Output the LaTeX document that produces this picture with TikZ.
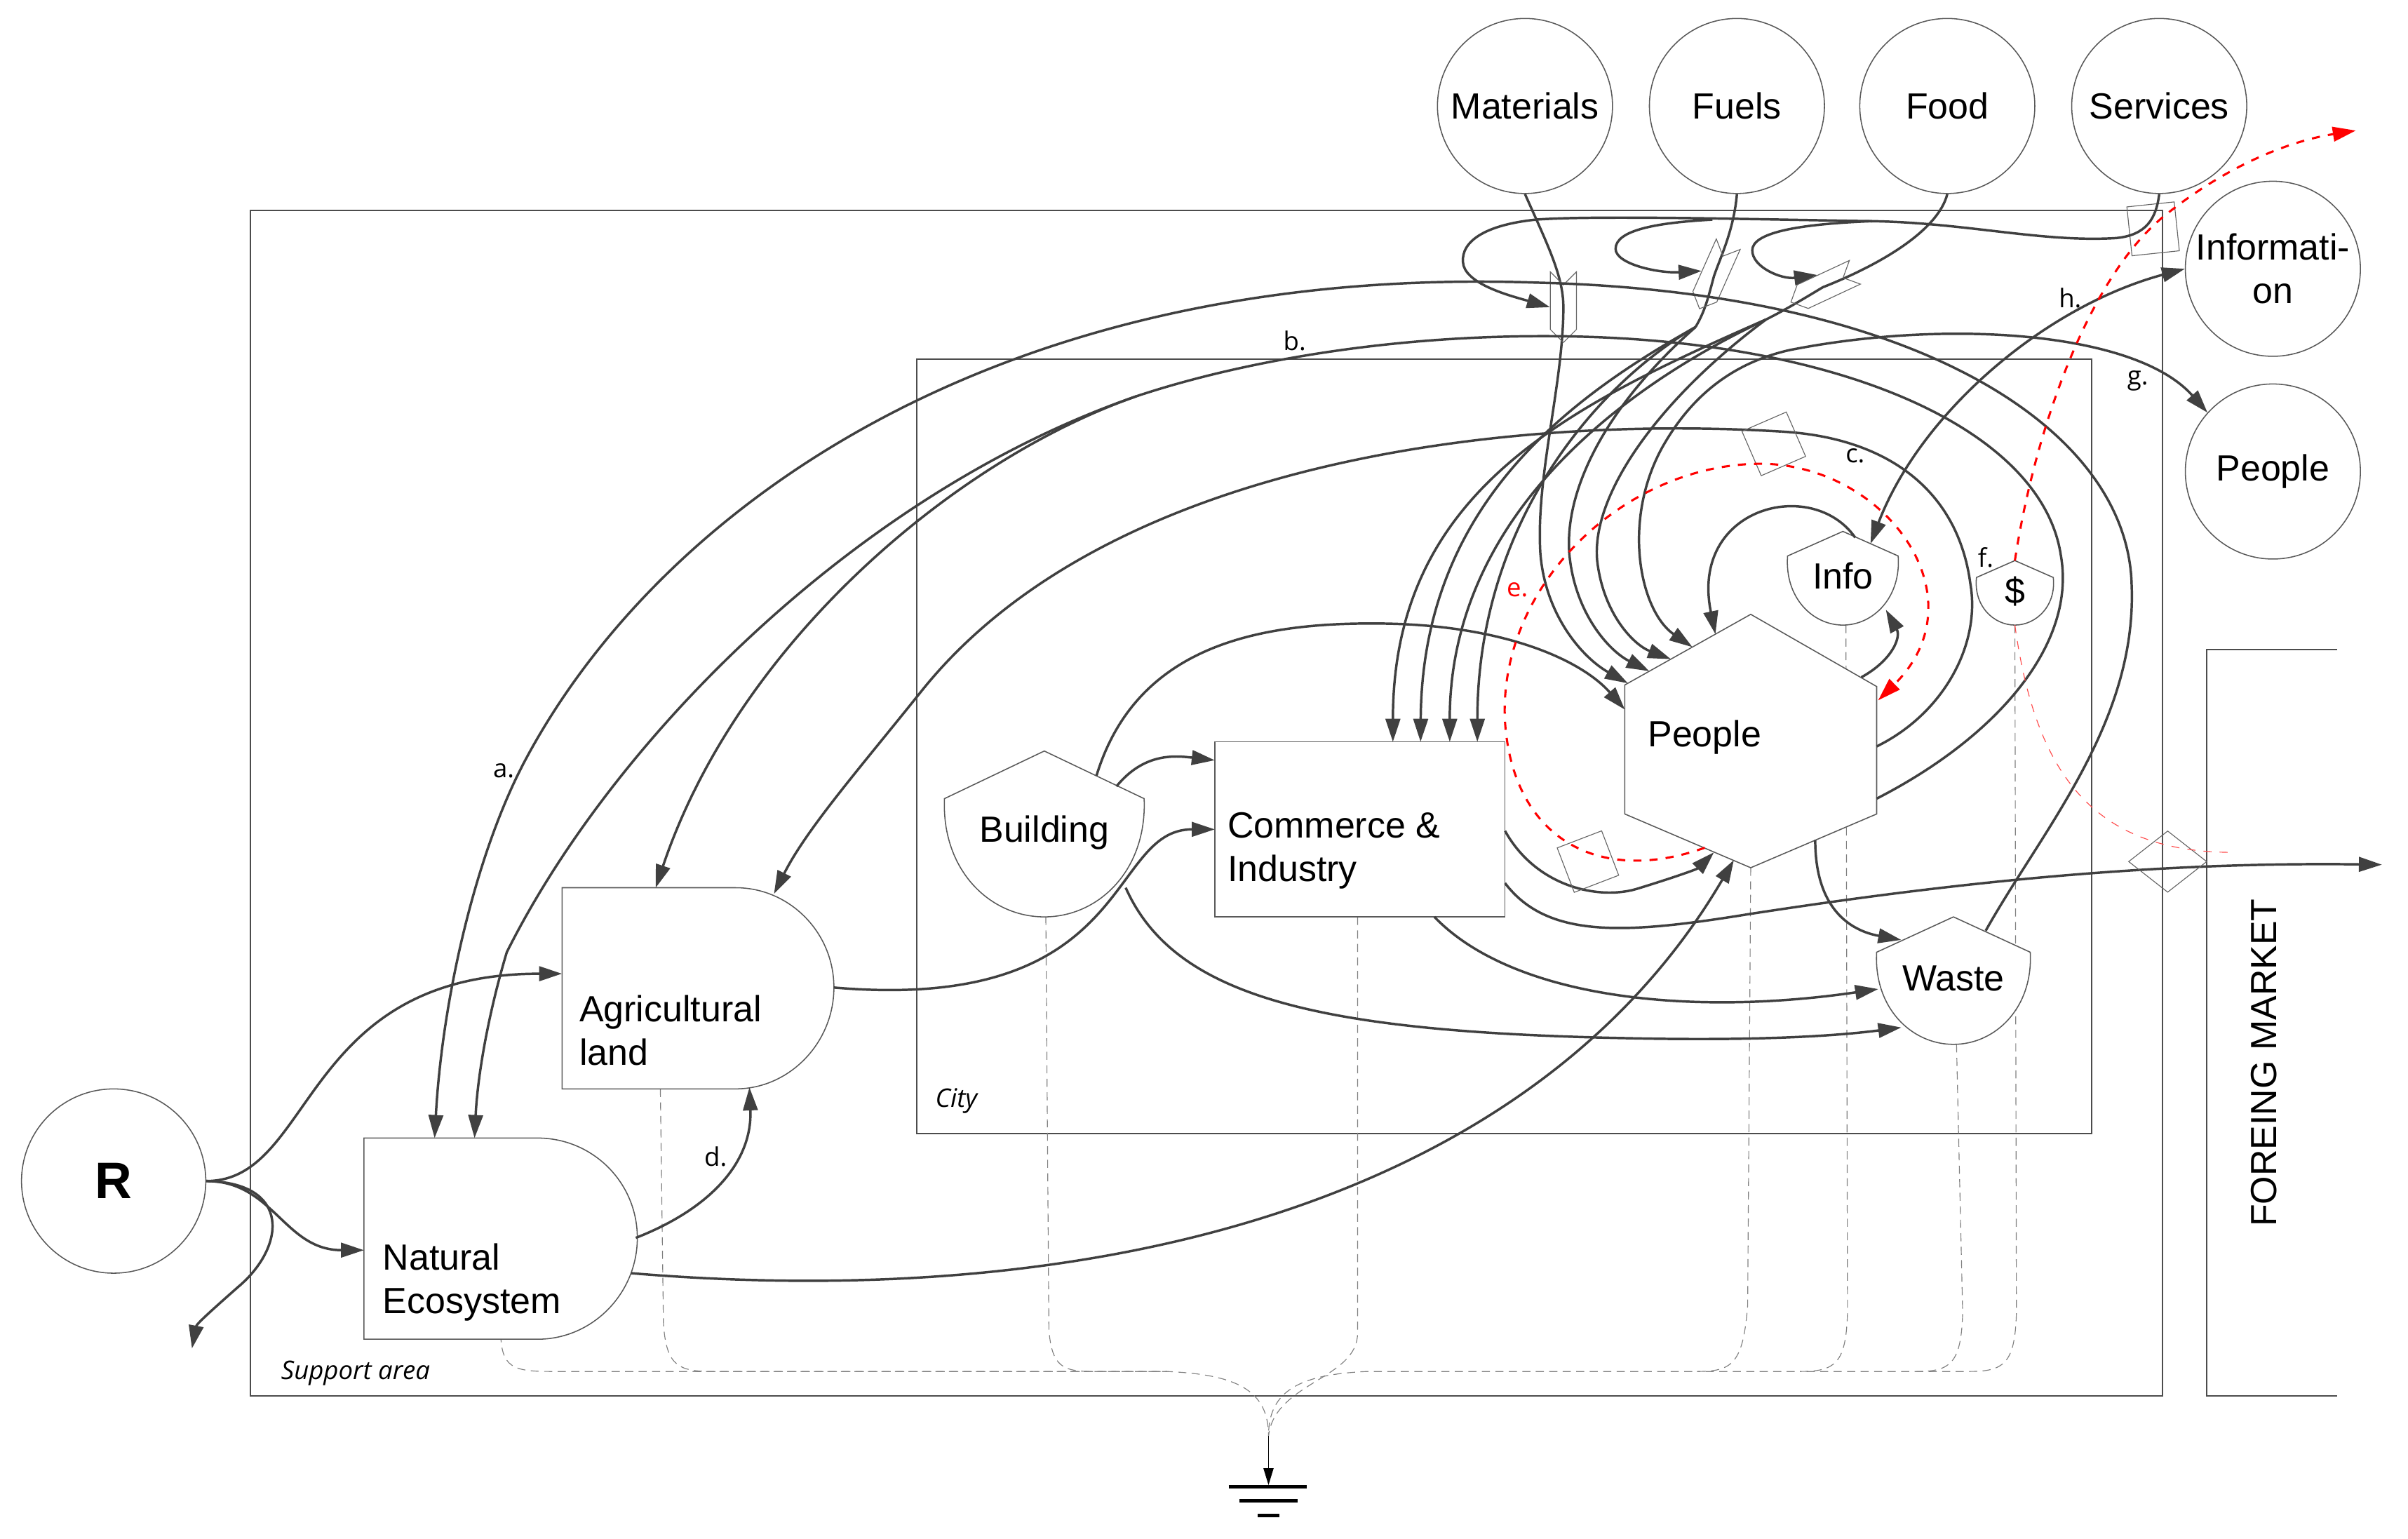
\documentclass[tikz,border=0pt]{standalone}
\usepackage{fontspec}
\setmainfont{Liberation Sans}
\newfontfamily\lblfont{Open Sans}
\usetikzlibrary{arrows.meta,shapes.geometric,shapes.symbols}
\newcommand{\bigtxt}{\fontsize{13.5}{16}\selectfont}
\newcommand{\smalltxt}{\lblfont\fontsize{9.5}{11}\selectfont}
% consumer unit: centre x, half width, top, shoulder, bottom
\newcommand{\consumer}[5]{%
  \draw[unit] (#1,#3) -- ({#1+#2},#4)
    .. controls ({#1+#2+2},{#4+0.6*(#5-#4)}) and ({#1+0.55*#2},#5) .. (#1,#5)
    .. controls ({#1-0.55*#2},#5) and ({#1-#2-2},{#4+0.6*(#5-#4)}) .. ({#1-#2},#4) -- cycle;}

\begin{document}
\begin{tikzpicture}[x=0.02cm, y=-0.02cm,
  frame/.style={draw=black!70, line width=0.5pt},
  unit/.style={draw=black!65, line width=0.4pt, fill=white},
  circ/.style={unit, circle, minimum size=2.28cm, inner sep=0pt, font=\bigtxt, align=center},
  txt/.style={font=\bigtxt, inner sep=0pt, align=left},
  lab/.style={font=\smalltxt, inner sep=1pt},
  flow/.style={draw=black!75, line width=0.9pt, -{Triangle[length=3mm,width=1.9mm]}},
  pipe/.style={draw=black!75, line width=0.9pt},
  cash/.style={draw=red, dashed, line width=0.8pt, -{Triangle[length=3mm,width=1.9mm]}},
  heat/.style={draw=black!50, line width=0.3pt, densely dashed},
  tag/.style={draw=black!60, line width=0.3pt, inner sep=0pt},
  chev/.style={tag, signal, signal to=south, signal from=north, minimum width=0.34cm, minimum height=0.58cm}
]
\useasboundingbox (0,0) rectangle (1568,1002);
% ----- frames -----
\draw[frame] (163,137) rectangle (1408,909);
\node[lab, anchor=west] (suplab) at (181,894) {\itshape Support area};
\draw[frame] (597,234) rectangle (1362,738);
\node[lab, anchor=west] (citylab) at (607,717) {\itshape City};
\draw[frame] (1522,423) -- (1437,423) -- (1437,909) -- (1522,909);
\node[txt, rotate=90] (mkt) at (1474,692) {FOREING MARKET};

% ----- ports -----
\coordinate (ne-w) at (237,814);
\coordinate (ne-n1) at (283,741);
\coordinate (ne-n2) at (309,741);
\coordinate (ne-e1) at (414,806);
\coordinate (ne-e2) at (411,829);
\coordinate (ne-s) at (326,872);
\coordinate (ag-w) at (366,634);
\coordinate (ag-n1) at (427,578);
\coordinate (ag-n2) at (504,582);
\coordinate (ag-s1) at (488,708);
\coordinate (ag-e) at (543,643);
\coordinate (ag-s) at (430,709);
\coordinate (bu-ne1) at (714,505);
\coordinate (bu-ne2) at (727,512);
\coordinate (bu-se) at (733,578);
\coordinate (bu-s) at (681,597);
\coordinate (co-w1) at (791,495);
\coordinate (co-w2) at (791,540);
\coordinate (co-e1) at (980,541);
\coordinate (co-e2) at (980,575);
\coordinate (co-s1) at (934,597);
\coordinate (co-s2) at (884,597);
\foreach \i/\x in {1/907,2/925,3/944,4/962} \coordinate (co-n\i) at (\x,483);
\coordinate (pe-w) at (1058,462);
\foreach \i/\x in {1/1060,2/1074,3/1088,4/1102,5/1117} \coordinate (pe-nw\i) at (\x,{446-(\x-1058)*46/82});
\coordinate (pe-s1) at (1116,555);
\coordinate (pe-s2) at (1129,560);
\coordinate (pe-sw) at (1110,552);
\coordinate (pe-s) at (1140,565);
\coordinate (pe-e1) at (1222,486);
\coordinate (pe-e2) at (1222,520);
\coordinate (pe-se) at (1182,547);
\coordinate (pe-ne) at (1212,441);
\coordinate (pe-ne2) at (1223,456);
\coordinate (in-n) at (1208,350);
\coordinate (in-ne) at (1218,354);
\coordinate (in-s) at (1228,397);
\coordinate (in-s0) at (1202,407);
\coordinate (do-n) at (1312,365);
\coordinate (do-s) at (1312,407);
\coordinate (wa-n) at (1238,612);
\coordinate (wa-w1) at (1223,644);
\coordinate (wa-w2) at (1238,669);
\coordinate (wa-ne) at (1293,606);
\coordinate (wa-s) at (1274,680);
\coordinate (r-out) at (125,878);
\coordinate (exp) at (1551,563);
\coordinate (f-out) at (1534,85);
\coordinate (mk-in) at (1454,555);
\coordinate (b-s) at (740,258);
\coordinate (fu-s) at (1104,213);
\coordinate (fo-s) at (1150,208);
\coordinate (lp2) at (1115,143);
\coordinate (lp3) at (1219,144);
\coordinate (c-m) at (1160,281);
\coordinate (sink) at (826,935);
\coordinate (gnd) at (826,967);

% ----- heat sink (drawn first, units cover it) -----
\draw[heat] (ne-s) -- (326,866) .. controls (326,891) and (334,893) .. (360,893) -- (760,893) .. controls (805,895) and (826,905) .. (sink);
\draw[heat] (ag-s) -- (432,862) .. controls (434,890) and (442,893) .. (465,893) -- (760,893);
\draw[heat] (bu-s) -- (683,866) .. controls (685,890) and (692,893) .. (712,893) -- (760,893);
\draw[heat] (co-s2) -- (884,868) .. controls (884,898) and (830,900) .. (sink);
\draw[heat] (pe-s) -- (1138,850) .. controls (1135,888) and (1128,893) .. (1105,893) -- (890,893) .. controls (847,895) and (826,905) .. (sink);
\draw[heat] (in-s0) -- (1203,855) .. controls (1202,888) and (1195,893) .. (1172,893) -- (1105,893);
\draw[heat] (wa-s) -- (1278,855) .. controls (1277,888) and (1270,893) .. (1248,893) -- (1172,893);
\draw[heat] (do-s) -- (1313,855) .. controls (1312,888) and (1305,893) .. (1282,893) -- (1248,893);
\draw[black, line width=0.4pt, -{Triangle[length=2.2mm,width=1.3mm]}] (sink) -- (gnd);
\draw[black, line width=1.3pt] (800,968) -- (851,968) (807,977) -- (845,977) (819,987) -- (833,987);

% ----- sources -----
\node[circ] (mat) at (993,69) {Materials};
\node[circ] (fuel) at (1131,69) {Fuels};
\node[circ] (food) at (1268,69) {Food};
\node[circ] (serv) at (1406,69) {Services};
\node[circ] (infoc) at (1480,175) {Informati-\\on};
\node[circ] (pplc) at (1480,307) {People};
\node[circ, minimum size=2.4cm, font=\fontsize{19}{22}\selectfont\bfseries] (R) at (74,769) {R};

% ----- units -----
\draw[unit] (237,741) -- (350,741) .. controls (386,741) and (415,770) .. (415,806)
  .. controls (415,842) and (386,872) .. (350,872) -- (237,872) -- cycle;
\node[txt, anchor=west] (nat) at (249,835) {Natural\\Ecosystem};
\draw[unit] (366,578) -- (479,578) .. controls (514,578) and (543,607) .. (543,643)
  .. controls (543,679) and (514,709) .. (479,709) -- (366,709) -- cycle;
\node[txt, anchor=west] (agri) at (377,671) {Agricultural\\land};
\consumer{680}{65}{489}{520}{597}
\node[txt] (bld) at (680,542) {Building};
\node[unit, rectangle, minimum width=3.78cm, minimum height=2.28cm] (comm) at (885.5,540) {};
\node[txt, anchor=west] (commtxt) at (799,554) {Commerce \&\\Industry};
\draw[unit] (1140,400) -- (1222,447) -- (1222,530) -- (1140,565) -- (1058,530) -- (1058,446) -- cycle;
\node[txt] (ppl) at (1110,480) {People};
\consumer{1200}{36}{346}{362}{407}
\node[txt] (info) at (1200,375) {Info};
\consumer{1312}{25}{365}{376}{407}
\node[txt] (dol) at (1312,385) {\$};
\consumer{1272}{50}{597}{620}{680}
\node[txt] (wst) at (1272,637) {Waste};

% ----- renewable source -----
\draw[flow] (R.east) .. controls (205,769) and (195,634) .. (ag-w);
\draw[flow] (R.east) .. controls (178,769) and (185,814) .. (ne-w);
\draw[flow] (R.east) .. controls (190,770) and (186,812) .. (155,838) .. controls (138,853) and (128,862) .. (r-out);

% ----- support area -----
\draw[flow] (ne-e1) .. controls (465,786) and (490,755) .. (ag-s1);
\node[lab] (ld) at (466,753) {d.};
\draw[flow] (ne-e2) .. controls (720,855) and (1000,780) .. (pe-s2);
\draw[flow] (ag-e) .. controls (740,660) and (720,540) .. (co-w2);

% ----- city -----
\draw[flow] (bu-ne2) .. controls (745,490) and (765,492) .. (co-w1);
\draw[flow] (bu-ne1) .. controls (740,420) and (820,405) .. (900,406) .. controls (980,407) and (1030,430) .. (pe-w);
\draw[flow] (bu-se) .. controls (765,650) and (860,672) .. (1060,676) .. controls (1150,678) and (1200,674) .. (wa-w2);
\draw[flow] (co-s1) .. controls (985,650) and (1100,662) .. (wa-w1);
\draw[flow] (co-e1) .. controls (1000,577) and (1040,586) .. (1065,579) .. controls (1088,572) and (1105,566) .. (pe-s1);
\draw[flow] (co-e2) .. controls (1008,612) and (1060,608) .. (1140,595) .. controls (1270,575) and (1400,561) .. (exp);
\draw[flow] (pe-se) .. controls (1182,592) and (1205,606) .. (wa-n);
\draw[flow] (pe-ne) .. controls (1232,430) and (1238,415) .. (in-s);
\draw[flow] (in-n) .. controls (1180,310) and (1100,330) .. (pe-nw5);
\draw[flow, {Triangle[length=3mm,width=1.9mm]}-{Triangle[length=3mm,width=1.9mm]}]
  (in-ne) .. controls (1250,270) and (1330,200) .. (infoc.west);
\node[lab] (lh) at (1348,194) {h.};

% ----- imports -----
\draw[flow] (mat.south) .. controls (1008,160) and (1018,180) .. (1018,200)
  .. controls (1018,250) and (1000,310) .. (1003,360) .. controls (1006,400) and (1030,428) .. (pe-nw1);
\draw[pipe] (fuel.south) .. controls (1129,150) and (1120,168) .. (1116,180) .. controls (1112,195) and (1110,203) .. (fu-s);
\draw[flow] (fu-s) .. controls (1020,260) and (926,330) .. (co-n2);
\draw[flow] (fu-s) .. controls (1040,250) and (962,340) .. (co-n4);
\draw[flow] (fu-s) .. controls (1045,265) and (1018,320) .. (1022,362) .. controls (1026,400) and (1048,424) .. (pe-nw2);
\draw[pipe] (food.south) .. controls (1262,150) and (1225,172) .. (1187,187) .. controls (1172,196) and (1162,202) .. (fo-s);
\draw[flow] (fo-s) .. controls (1020,265) and (907,320) .. (co-n1);
\draw[flow] (fo-s) .. controls (1050,255) and (944,340) .. (co-n3);
\draw[flow] (fo-s) .. controls (1080,260) and (1036,322) .. (1040,365) .. controls (1044,400) and (1064,420) .. (pe-nw3);
\node[chev] (tmat) at (1018,200) {};
\node[chev, rotate=-24] (tfuel) at (1116,180) {};
\node[chev, rotate=-65] (tfood) at (1187,187) {};
\node[tag, rectangle, minimum width=0.62cm, minimum height=0.64cm, rotate=6] (tserv) at (1402,149) {};
\draw[flow] (serv.south) .. controls (1404,142) and (1398,153) .. (1378,155) .. controls (1330,158) and (1280,145) .. (lp3)
  .. controls (1150,143) and (1040,140) .. (1000,143) .. controls (962,147) and (950,160) .. (953,173)
  .. controls (957,186) and (985,193) .. (tmat.west);
\draw[flow] (lp2) .. controls (1078,145) and (1052,150) .. (1052,162) .. controls (1052,172) and (1080,178) .. (tfuel.west);
\draw[flow] (lp3) .. controls (1168,146) and (1141,152) .. (1141,163) .. controls (1141,174) and (1160,182) .. (tfood.west);

% ----- people exchange -----
\draw[flow, {Triangle[length=3mm,width=1.9mm]}-{Triangle[length=3mm,width=1.9mm]}]
  (pe-nw4) .. controls (1068,398) and (1056,340) .. (1082,292) .. controls (1102,256) and (1130,236) .. (1165,228)
  .. controls (1265,208) and (1390,215) .. (pplc.138);
\node[lab] (lg) at (1392,248) {g.};

% ----- recycle to land -----
\draw[flow] (wa-ne) .. controls (1330,540) and (1392,470) .. (1388,380) .. controls (1385,280) and (1250,190) .. (1000,184)
  .. controls (650,172) and (430,330) .. (342,495) .. controls (310,555) and (288,650) .. (ne-n1);
\node[lab] (la) at (328,502) {a.};
\draw[pipe] (pe-e2) .. controls (1300,480) and (1352,420) .. (1342,362) .. controls (1330,280) and (1200,222) .. (1021,219)
  .. controls (900,217) and (800,238) .. (b-s);
\draw[flow] (b-s) .. controls (560,320) and (400,480) .. (330,620) .. controls (318,660) and (311,700) .. (ne-n2);
\draw[flow] (b-s) .. controls (620,300) and (480,420) .. (ag-n1);
\node[lab] (lb) at (843,222) {b.};
\draw[pipe] (pe-e1) .. controls (1265,465) and (1290,420) .. (1283,380) .. controls (1275,320) and (1230,285) .. (c-m);
\draw[flow] (c-m) .. controls (980,270) and (720,300) .. (600,450) .. controls (560,500) and (525,540) .. (ag-n2);
\node[tag, rectangle, minimum size=0.63cm, rotate=23.5] (tc) at (1155,289) {};
\node[lab] (lc) at (1208,297) {c.};
\node[tag, rectangle, minimum size=0.62cm, rotate=21] (tcp) at (1034,561) {};
\node[tag, diamond, minimum width=1.02cm, minimum height=0.8cm] (tmk) at (1411.5,561) {};

% ----- money -----
\draw[cash] (pe-sw) .. controls (1040,577) and (985,545) .. (980,470) .. controls (975,380) and (1060,300) .. (1150,302)
  .. controls (1230,305) and (1290,390) .. (pe-ne2);
\node[lab, text=red] (le) at (988,384) {e.};
\draw[cash] (do-n) .. controls (1325,280) and (1360,180) .. (1410,140) .. controls (1450,108) and (1490,92) .. (f-out);
\node[lab] (lf) at (1293,363) {f.};
\draw[red!70, dashed, line width=0.3pt] (do-s) .. controls (1325,500) and (1360,555) .. (mk-in);
\end{tikzpicture}
\end{document}
